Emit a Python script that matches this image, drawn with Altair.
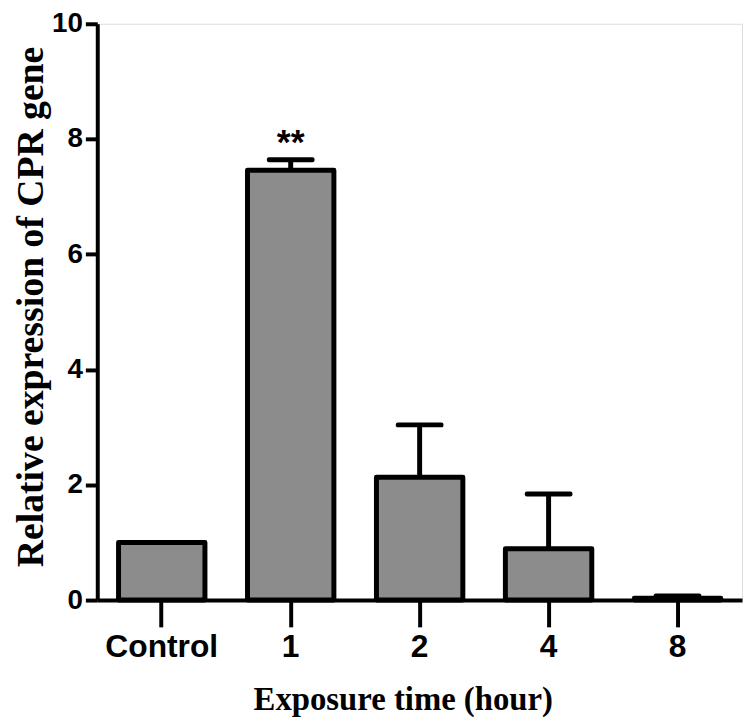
import altair as alt
import pandas as pd

categories = ["Control", "1", "2", "4", "8"]
means = [1.0, 7.46, 2.13, 0.89, 0.03]
errors = [0.0, 0.18, 0.91, 0.95, 0.04]
marks = ["", "**", "", "", ""]

df = pd.DataFrame({"cat": categories, "mean": means, "err": errors, "sig": marks})
df["top"] = df["mean"] + df["err"]

x = alt.X("cat:N", sort=categories,
          scale=alt.Scale(paddingInner=0.33, paddingOuter=0.165),
          axis=alt.Axis(title="Exposure time (hour)", labelAngle=0,
                        labelFont="Liberation Sans", labelFontWeight="bold",
                        labelFontSize=32, labelColor="black", labelPadding=5,
                        tickSize=27, tickWidth=4, tickColor="black",
                        domainWidth=4, domainColor="black",
                        titleFont="Liberation Serif", titleFontSize=33,
                        titleFontWeight="bold", titleColor="black",
                        titleX=308, titleY=110, titleBaseline="alphabetic",
                        titleAlign="center"))

y_scale = alt.Scale(domain=[0, 10], nice=False)
y_axis = alt.Axis(title="Relative expression of CPR gene", values=[0, 2, 4, 6, 8, 10],
                  format="d", grid=False, labelFont="Liberation Sans", labelFontWeight="bold",
                  labelFontSize=28, labelColor="black", labelPadding=3,
                  tickSize=12, tickWidth=4, tickColor="black",
                  domainWidth=4, domainColor="black",
                  titleFont="Liberation Serif", titleFontSize=38,
                  titleFontWeight="bold", titleColor="black",
                  titleAngle=-90, titleX=-66, titleY=285,
                  titleAlign="center", titleBaseline="middle")

base = alt.Chart(df)

rule = base.transform_filter("datum.err > 0").mark_rule(color="black", strokeWidth=5).encode(
    x=x, y=alt.Y("mean:Q", scale=y_scale, axis=y_axis), y2="top:Q")
cap = base.transform_filter("datum.err > 0").mark_tick(
    color="black", size=48, thickness=5, cornerRadius=2, opacity=1).encode(
    x=x, y=alt.Y("top:Q", scale=y_scale))
bars = base.mark_bar(fill="#8c8c8c", stroke="black", strokeWidth=5,
                     strokeJoin="round").encode(
    x=x, y=alt.Y("mean:Q", scale=y_scale, axis=y_axis))
text = base.mark_text(font="Liberation Sans", fontWeight="bold", fontSize=36,
                      baseline="alphabetic", dy=-6, color="black").encode(
    x=x, y=alt.Y("top:Q", scale=y_scale), text="sig:N")

chart = alt.layer(rule, cap, bars, text).properties(
    width=650, height=581,
    padding={"left": 90, "top": 13, "right": 2, "bottom": 118},
    autosize=alt.AutoSizeParams(type="none"),
).configure_view(stroke=None).configure(background="white")

chart.save("out.html", embed_options={"renderer": "svg", "actions": False})
